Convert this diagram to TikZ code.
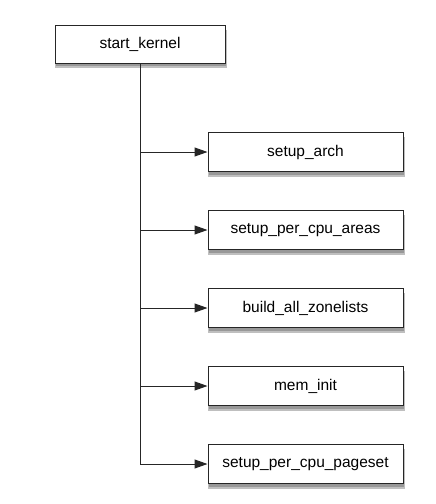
\documentclass[tikz,border=0pt]{standalone}
\usepackage{fontspec}
\setmainfont{Liberation Sans}
\usetikzlibrary{arrows.meta,shadows}

\begin{document}
\begin{tikzpicture}[x=1pt, y=1pt,
    box/.style={draw=black!85, line width=1pt, fill=white, minimum width=195pt, minimum height=39pt,
        font=\fontsize{15.5}{18}\selectfont,
        general shadow={fill=black!25, shadow xshift=1pt, shadow yshift=-5pt, shadow scale=1.01},
        drop shadow={fill=black!55, shadow xshift=1pt, shadow yshift=-3pt}},
    call/.style={draw=black!85, line width=1pt, -{Triangle[length=13pt, width=9pt]}}]
    \useasboundingbox (0,0) rectangle (436,-504);
    \node[box, minimum width=170pt, minimum height=38pt] (start) at (140,-44) {start\_kernel};
    \node[box] (arch) at (305.5,-152) {setup\_arch};
    \node[box] (areas) at (305.5,-230) {setup\_per\_cpu\_areas};
    \node[box] (zonelists) at (305.5,-308) {build\_all\_zonelists};
    \node[box] (meminit) at (305.5,-386) {mem\_init};
    \node[box] (pageset) at (305.5,-464) {setup\_per\_cpu\_pageset};
    \draw[call] (start.south) |- (arch);
    \draw[call] (start.south) |- (areas);
    \draw[call] (start.south) |- (zonelists);
    \draw[call] (start.south) |- (meminit);
    \draw[call] (start.south) |- (pageset);
\end{tikzpicture}
\end{document}
